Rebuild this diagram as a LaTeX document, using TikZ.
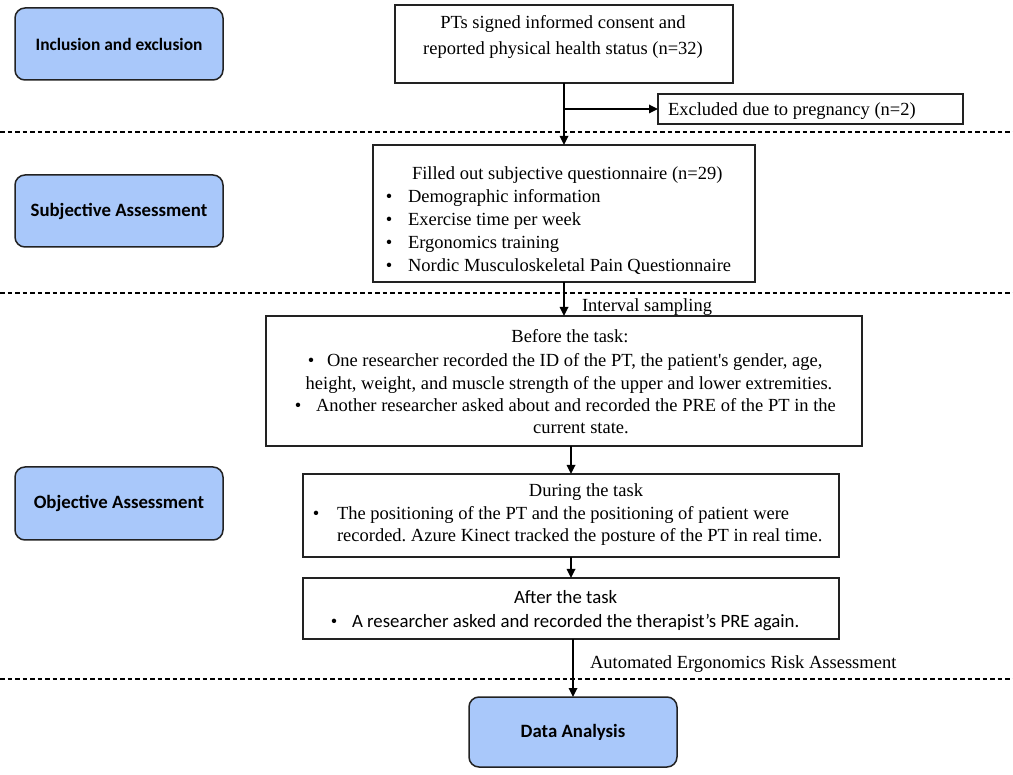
\documentclass[tikz,border=0pt]{standalone}
\usepackage{fontspec}
\setmainfont{Liberation Serif}[Ligatures=TeXOff]
\newfontfamily\calib{Carlito}
\usetikzlibrary{arrows.meta}
\definecolor{bluefill}{HTML}{A9C8FA}
\definecolor{edge}{HTML}{222222}
\frenchspacing
\begin{document}
\begin{tikzpicture}[x=1pt,y=-1pt,
  box/.style={draw=edge,line width=1.4pt,inner sep=0,outer sep=0,anchor=north west,rectangle},
  bluebox/.style={draw=edge,line width=1.5pt,fill=bluefill,rounded corners=10pt,inner sep=0,outer sep=0,anchor=north west,rectangle,font=\calib\bfseries\fontsize{18.8}{22}\selectfont},
  txt/.style={inner sep=0,outer sep=0,anchor=base west,font=\fontsize{18.5}{23}\selectfont},
  ctxt/.style={inner sep=0,outer sep=0,anchor=base west,font=\calib\fontsize{18.8}{23}\selectfont},
  bul/.style={inner sep=0,outer sep=0,anchor=base,font=\fontsize{18.5}{23}\selectfont},
  arr/.style={draw=black,line width=1.7pt,-{Triangle[length=9pt,width=8.5pt]}},
  sep/.style={draw=black,line width=1.2pt,dash pattern=on 4.5pt off 3pt}]
\useasboundingbox (0,0) rectangle (1013,775);
\fill[white] (0,0) rectangle (1013,775);

% separators
\draw[sep] (0,132) -- (1013,132);
\draw[sep] (0,293) -- (1013,293);
\draw[sep] (0,679) -- (1013,679);

% left stage boxes
\node[bluebox,minimum width=208,minimum height=72,font=\calib\bfseries\fontsize{17.4}{22}\selectfont] (inc) at (15,8) {Inclusion and exclusion};
\node[bluebox,minimum width=208,minimum height=72] (subj) at (15,175) {Subjective Assessment};
\node[bluebox,minimum width=208,minimum height=73] (obj) at (15,467) {Objective Assessment};
\node[bluebox,minimum width=208,minimum height=70] (data) at (469,697) {Data Analysis};

% process boxes
\node[box,minimum width=338,minimum height=78] (top) at (395,5) {};
\node[box,minimum width=305,minimum height=30] (excl) at (658,94) {};
\node[box,minimum width=382,minimum height=137] (quest) at (373,145) {};
\node[box,minimum width=596,minimum height=130] (before) at (266,316) {};
\node[box,minimum width=536,minimum height=83] (during) at (303,474) {};
\node[box,minimum width=536,minimum height=61] (after) at (303,578) {};

% texts
\node[txt,anchor=base] (t1) at (563,29) {PTs signed informed consent and};
\node[txt,anchor=base] (t2) at (563,55) {reported physical health status (n=32)};
\node[txt] (ex) at (668,116) {Excluded due to pregnancy (n=2)};

\node[txt] (q0) at (412,180) {Filled out subjective questionnaire (n=29)};
\node[bul] (qb1) at (389,203) {\textbullet};
\node[txt] (q1) at (408,203) {Demographic information};
\node[bul] (qb2) at (389,226) {\textbullet};
\node[txt] (q2) at (408,226) {Exercise time per week};
\node[bul] (qb3) at (389,249) {\textbullet};
\node[txt] (q3) at (408,249) {Ergonomics training};
\node[bul] (qb4) at (389,272) {\textbullet};
\node[txt] (q4) at (408,272) {Nordic Musculoskeletal Pain Questionnaire};

\node[txt] (isamp) at (582,312) {Interval sampling};

\node[txt,anchor=base] (b0) at (570,343) {Before the task:};
\node[bul] (bb1) at (311,367) {\textbullet};
\node[txt] (b1) at (327,367) {One researcher recorded the ID of the PT, the patient's gender, age,};
\node[txt,anchor=base] (b2) at (569,390) {height, weight, and muscle strength of the upper and lower extremities.};
\node[bul] (bb3) at (298,412) {\textbullet};
\node[txt] (b3) at (316,412) {Another researcher asked about and recorded the PRE of the PT in the};
\node[txt,anchor=base] (b4) at (581,434) {current state.};

\node[txt,anchor=base] (d0) at (586,497) {During the task};
\node[bul] (db1) at (316,520) {\textbullet};
\node[txt] (d1) at (337,520) {The positioning of the PT and the positioning of patient were};
\node[txt] (d2) at (337,542) {recorded. Azure Kinect tracked the posture of the PT in real time.};

\node[ctxt] (a0) at (514,604) {After the task};
\node[bul] (ab1) at (334,627) {\textbullet};
\node[ctxt] (a1) at (352,627) {A researcher asked and recorded the therapist’s PRE again.};

\node[txt] (aera) at (590,668) {Automated Ergonomics Risk Assessment};

% connectors
\coordinate (br) at (top.south |- excl.west);
\draw[arr] (top.south) -- (quest.north);
\draw[arr] (br) -- (excl.west);
\draw[arr] (quest.south) -- (before.north);
\draw[arr] (before.south -| during.north) -- (during.north);
\draw[arr] (during.south) -- (after.north);
\draw[arr] (after.south -| data.north) -- (data.north);
\end{tikzpicture}
\end{document}
